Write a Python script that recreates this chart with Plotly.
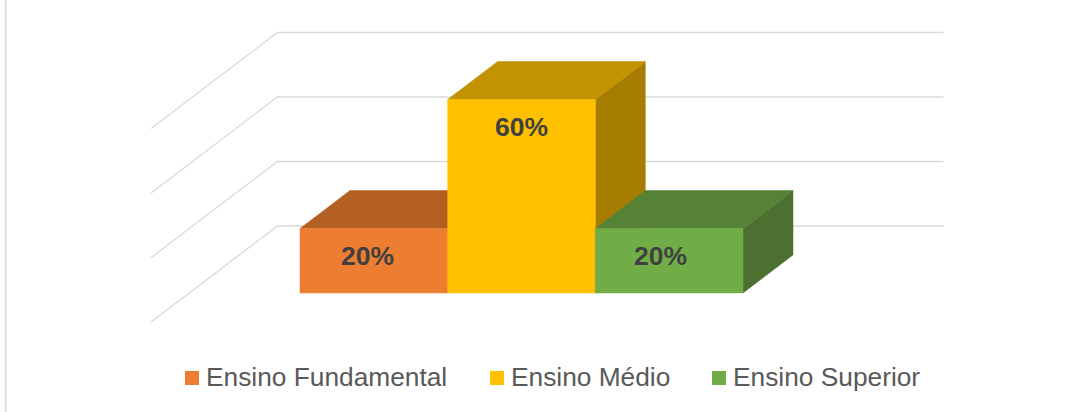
import plotly.graph_objects as go

categories = ["Ensino Fundamental", "Ensino Médio", "Ensino Superior"]
values = [20, 60, 20]
grid_values = [0, 20, 40, 60]
front_colors = ["#ED7D31", "#FFC000", "#70AD47"]
top_colors = ["#B45F23", "#C29200", "#558235"]
side_colors = ["#A05420", "#A67D00", "#4B702F"]
label_xshift = [-6, 0, -9]
legend_swatch_px = [185, 490, 712]
legend_text_px = [206, 511, 733]

W, H = 1087, 412
PX_X = 147.67
PX_Y = 3.225
X0_PX, Y0_PX = 300, 293
DEPTH_X = 50 / PX_X
DEPTH_Y = 38 / PX_Y


def project(x, y, depth):
    return x + depth * DEPTH_X, y + depth * DEPTH_Y


fig = go.Figure()

# Pseudo-3D walls: gridlines run along the floor side and back wall
for g in grid_values:
    pts = [project(-0.75, g, -0.763), project(-0.75, g, 1.763), project(3.76, g, 1.763)]
    fig.add_trace(go.Scatter(
        x=[p[0] for p in pts], y=[p[1] for p in pts], mode="lines",
        line=dict(color="#D9D9D9", width=1.3), showlegend=False, hoverinfo="skip",
    ))


def face(points, color, name):
    pts = [project(*p) for p in points]
    pts.append(pts[0])
    fig.add_trace(go.Scatter(
        x=[p[0] for p in pts], y=[p[1] for p in pts], mode="lines", fill="toself",
        fillcolor=color, line=dict(color=color, width=0.5), name=name,
        showlegend=False, hoverinfo="skip",
    ))


for i, (cat, v) in enumerate(zip(categories, values)):
    x1, x2 = i, i + 1
    face([(x2, 0, 0), (x2, v, 0), (x2, v, 1), (x2, 0, 1)], side_colors[i], cat)
    face([(x1, v, 0), (x2, v, 0), (x2, v, 1), (x1, v, 1)], top_colors[i], cat)
    face([(x1, 0, 0), (x2, 0, 0), (x2, v, 0), (x1, v, 0)], front_colors[i], cat)

annotations = []
for i, v in enumerate(values):
    annotations.append(dict(
        x=i + 0.5, y=v, xref="x", yref="y", text=f"<b>{v}%</b>", showarrow=False,
        xanchor="center", yanchor="middle", xshift=label_xshift[i], yshift=-27.5,
        font=dict(family="Liberation Sans", size=26.5, color="#404040"),
    ))

shapes = [dict(type="line", xref="paper", yref="paper", x0=5.8 / W, x1=5.8 / W, y0=0, y1=1,
               line=dict(color="#D9D9D9", width=1.6))]

for i, cat in enumerate(categories):
    shapes.append(dict(
        type="rect", xref="paper", yref="paper",
        x0=legend_swatch_px[i] / W, x1=(legend_swatch_px[i] + 14) / W,
        y0=1 - 385 / H, y1=1 - 371 / H,
        fillcolor=front_colors[i], line=dict(width=0),
    ))
    annotations.append(dict(
        x=legend_text_px[i] / W, y=1 - 377 / H, xref="paper", yref="paper", text=cat,
        showarrow=False, xanchor="left", yanchor="middle", xshift=-2,
        font=dict(family="Liberation Sans", size=26.3, color="#595959"),
    ))

fig.update_layout(
    width=W, height=H, autosize=False,
    margin=dict(l=0, r=0, t=0, b=0),
    paper_bgcolor="white", plot_bgcolor="white",
    showlegend=False,
    xaxis=dict(range=[-X0_PX / PX_X, (W - X0_PX) / PX_X], visible=False, fixedrange=True),
    yaxis=dict(range=[-(H - Y0_PX) / PX_Y, Y0_PX / PX_Y], visible=False, fixedrange=True),
    annotations=annotations, shapes=shapes,
)

fig.write_html("out.html", config=dict(displayModeBar=False),
               post_script="document.body.style.margin='0';document.documentElement.style.overflow='hidden';")
